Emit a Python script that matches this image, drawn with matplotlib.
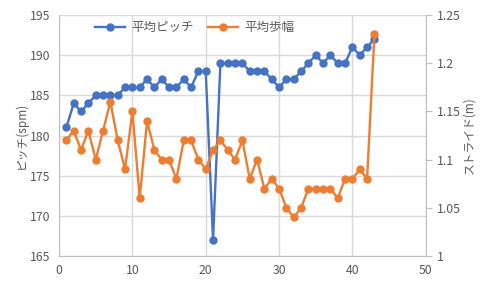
import matplotlib.pyplot as plt

plt.rcParams['font.family'] = ['Noto Sans CJK JP', 'DejaVu Sans']

# データ
runs = list(range(1, 44))
pitch = [181, 184, 183, 184, 185, 185, 185, 185, 186, 186,
         186, 187, 186, 187, 186, 186, 187, 186, 188, 188,
         167, 189, 189, 189, 189, 188, 188, 188, 187, 186,
         187, 187, 188, 189, 190, 189, 190, 189, 189, 191,
         190, 191, 192]
stride = [1.12, 1.13, 1.11, 1.13, 1.10, 1.13, 1.16, 1.12, 1.09, 1.15,
          1.06, 1.14, 1.11, 1.10, 1.10, 1.08, 1.12, 1.12, 1.10, 1.09,
          1.11, 1.12, 1.11, 1.10, 1.12, 1.08, 1.10, 1.07, 1.08, 1.07,
          1.05, 1.04, 1.05, 1.07, 1.07, 1.07, 1.07, 1.06, 1.08, 1.08,
          1.09, 1.08, 1.23]

blue = '#4472C4'
orange = '#ED7D31'
grid_c = '#D9D9D9'
text_c = '#595959'

fig = plt.figure(figsize=(4.8, 2.88), dpi=100)
ax = fig.add_axes([0.123, 0.111, 0.764, 0.837])
ax2 = ax.twinx()

l1, = ax.plot(runs, pitch, color=blue, lw=1.7, marker='o', ms=5, label='平均ピッチ')
l2, = ax2.plot(runs, stride, color=orange, lw=1.7, marker='o', ms=5, label='平均歩幅')

ax.set_xlim(0, 50)
ax.set_ylim(165, 195)
ax2.set_ylim(1, 1.25)
ax.set_xticks(range(0, 51, 10))
ax.set_yticks(range(165, 196, 5))
ax2.set_yticks([1, 1.05, 1.1, 1.15, 1.2, 1.25])
ax2.set_yticklabels(['1', '1.05', '1.1', '1.15', '1.2', '1.25'])

ax.grid(True, color=grid_c, lw=1)
ax.set_axisbelow(True)

for a in (ax, ax2):
    for s in a.spines.values():
        s.set_visible(False)
ax.spines['bottom'].set_visible(True)
ax.spines['bottom'].set_color('#BFBFBF')
ax.spines['left'].set_visible(True)
ax.spines['left'].set_color('#BFBFBF')
ax2.spines['right'].set_visible(True)
ax2.spines['right'].set_color('#BFBFBF')

ax.tick_params(axis='both', length=0, labelsize=8.8, labelcolor=text_c, pad=6)
ax2.tick_params(axis='y', length=4, color='#BFBFBF', labelsize=8.8, labelcolor=text_c, pad=4)

ax.set_ylabel('ピッチ(spm)', color=text_c, fontsize=8.5, labelpad=2)
ax2.set_ylabel('ストライド(m)', color=text_c, fontsize=8.5, rotation=90, labelpad=1)

ax.legend(handles=[l1, l2], loc='upper center', bbox_to_anchor=(0.37, 1.02), ncol=2,
          frameon=False, fontsize=9, labelcolor=text_c, handlelength=2.4,
          handletextpad=0.5, columnspacing=1.2)

fig.savefig('out.png', dpi=100)
